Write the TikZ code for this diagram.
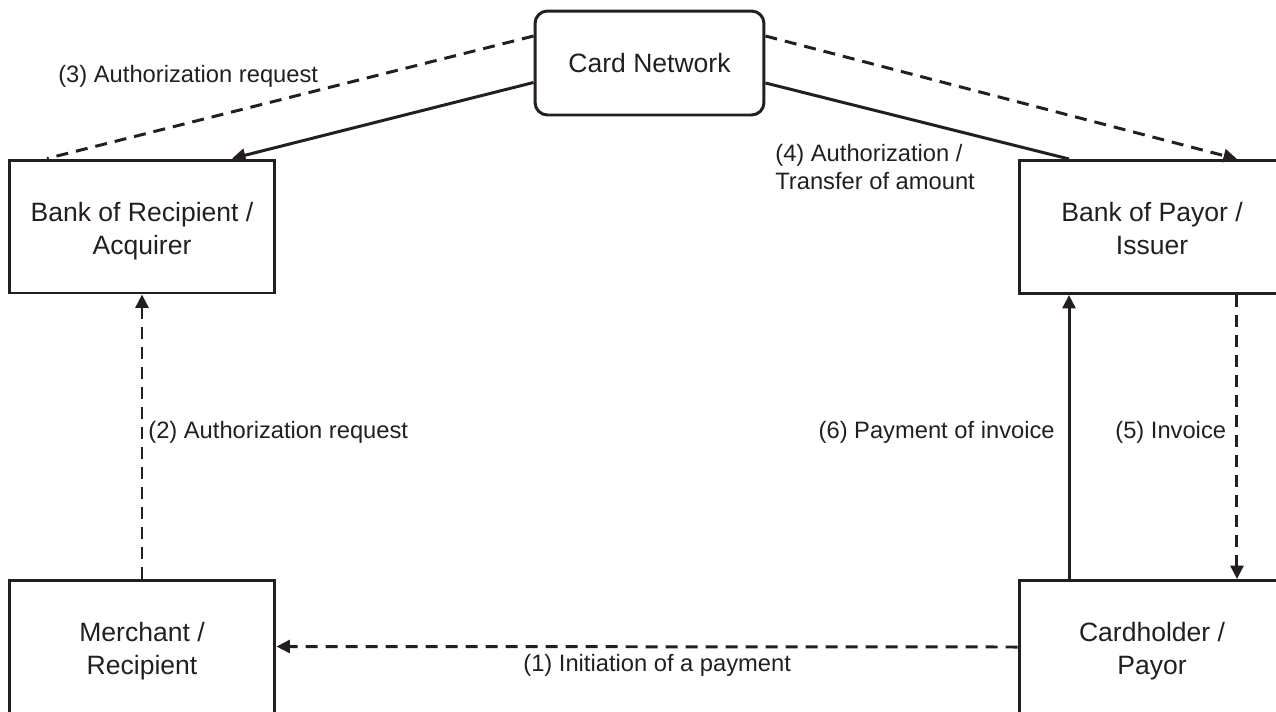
\documentclass[tikz,border=0pt]{standalone}
\usepackage{fontspec}
\setmainfont{Liberation Sans}
\usetikzlibrary{arrows.meta}
\definecolor{ink}{HTML}{231F20}
\newcommand{\uprule}{\rule{0pt}{17pt}}
\newcommand{\downrule}{\rule[-4pt]{0pt}{4pt}}

\begin{document}
\begin{tikzpicture}[x=0.02cm,y=-0.02cm,
    every node/.style={text=ink},
    party/.style={draw=ink,line width=1.7pt,inner sep=0pt,minimum width=5.32cm,minimum height=2.66cm,
        align=center,font=\fontsize{15.1}{18.8}\selectfont},
    network/.style={draw=ink,line width=1.7pt,rounded corners=0.25cm,inner sep=0pt,
        minimum width=4.58cm,minimum height=2.08cm,font=\fontsize{15.1}{18.8}\selectfont},
    msg/.style={inner sep=0pt,font=\fontsize{13.5}{15.9}\selectfont},
    flow/.style={draw=ink,line width=1.7pt},
    dflow/.style={flow,dash pattern=on 0.24cm off 0.16cm},
    >={Triangle[length=0.27cm,width=0.26cm]}]
    \useasboundingbox (0,0) rectangle (1276,711);
    \clip (0,0) rectangle (1276,711);
    % parties
    \node[network] (net) at (649.5,63) {Card Network};
    \node[party] (acq) at (142,226.5) {\uprule Bank of Recipient /\\Acquirer\downrule};
    \node[party] (iss) at (1152,227) {\uprule Bank of Payor /\\Issuer\downrule};
    \node[party] (mer) at (142,646.5) {\uprule Merchant /\\Recipient\downrule};
    \node[party] (chd) at (1152,647) {\uprule Cardholder /\\Payor\downrule};
    % flows
    \draw[dflow] ([yshift=0.54cm]net.west) -- ([xshift=-1.9cm]acq.north);
    \draw[flow,->] ([yshift=-0.39cm]net.west) -- ([xshift=1.8cm]acq.north);
    \draw[dflow,->] ([yshift=0.54cm]net.east) -- ([xshift=1.7cm]iss.north);
    \draw[flow] ([yshift=-0.4cm]net.east) -- ([xshift=-1.66cm]iss.north);
    \draw[dflow,->] (mer.north) -- (acq.south);
    \draw[dflow,->] (chd.west) -- (mer.east);
    \draw[flow,->] ([xshift=-1.66cm]chd.north) -- ([xshift=-1.66cm]iss.south);
    \draw[dflow,->] ([xshift=1.7cm]iss.south) -- ([xshift=1.7cm]chd.north);
    % labels
    \node[msg,anchor=base west] (l3) at (58,82) {(3) Authorization request};
    \node[msg,anchor=north west,align=left] (l4) at (775,144) {(4) Authorization /\\Transfer of amount};
    \node[msg,anchor=base west] (l2) at (148,438) {(2) Authorization request};
    \node[msg,anchor=base east] (l6) at (1055,438) {(6) Payment of invoice};
    \node[msg,anchor=base west] (l5) at (1115,438) {(5) Invoice};
    \node[msg,anchor=base west] (l1) at (523,671) {(1) Initiation of a payment};
\end{tikzpicture}
\end{document}
